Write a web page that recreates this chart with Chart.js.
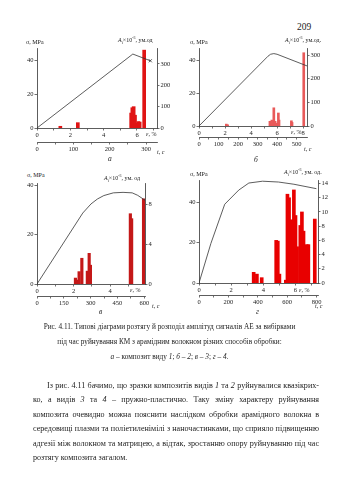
<!DOCTYPE html>
<html><head><meta charset="utf-8">
<script src="https://cdn.jsdelivr.net/npm/chart.js@4.4.1/dist/chart.umd.min.js"></script>
<style>
html,body{margin:0;padding:0;background:#fff;}
body{width:339px;height:480px;position:relative;overflow:hidden;font-family:"Liberation Serif",serif;color:#222;}
canvas{position:absolute;}
.l{position:absolute;font-size:6px;white-space:nowrap;line-height:1;color:#222;}
.l sub,.l sup{font-size:4px;line-height:0;}
.lt{position:absolute;font-size:7.5px;font-style:italic;line-height:1;}
#pg{position:absolute;left:297px;top:22px;font-size:9.5px;}
#cap{position:absolute;left:0;width:339px;top:319px;text-align:center;font-size:7.3px;line-height:15px;}
#par{position:absolute;left:33px;width:286px;top:379px;text-align:justify;font-size:8.1px;line-height:14.4px;text-indent:14px;}
</style>
</head><body>
<div id="pg">209</div>

<canvas id="ca" width="155" height="111" style="left:20px;top:43px"></canvas>
<canvas id="cb" width="149" height="108" style="left:180px;top:43px"></canvas>
<canvas id="cc" width="151" height="132" style="left:18px;top:178px"></canvas>
<canvas id="cd" width="158" height="134" style="left:180px;top:175px"></canvas>

<div class="l" style="left:26px;top:39px">σ, MPa</div>
<div class="l" style="left:118px;top:37px"><i>A</i><sub>i</sub>×10<sup>-3</sup>, ум.од</div>
<div class="l" style="left:146px;top:131px"><i>ε</i>, %</div>
<div class="l" style="left:157px;top:149px"><i>t</i>, <i>c</i></div>
<div class="lt" style="left:108px;top:155px">а</div>

<div class="l" style="left:190px;top:39px">σ, MPa</div>
<div class="l" style="left:285px;top:37px"><i>A</i><sub>i</sub>×10<sup>-3</sup>, ум.од.</div>
<div class="l" style="left:291px;top:129px"><i>ε</i>, %</div>
<div class="l" style="left:304px;top:146px"><i>t</i>, <i>c</i></div>
<div class="lt" style="left:254px;top:156px">б</div>

<div class="l" style="left:27px;top:172px">σ, MPa</div>
<div class="l" style="left:104px;top:175px"><i>A</i><sub>i</sub>×10<sup>-3</sup>, ум. од</div>
<div class="l" style="left:130px;top:287px"><i>ε</i>, %</div>
<div class="l" style="left:152px;top:303px"><i>t</i>, <i>c</i></div>
<div class="lt" style="left:99px;top:308px">в</div>

<div class="l" style="left:190px;top:171px">σ, MPa</div>
<div class="l" style="left:284px;top:169px"><i>A</i><sub>i</sub>×10<sup>-3</sup>, ум. од.</div>
<div class="l" style="left:299px;top:287px"><i>ε</i>, %</div>
<div class="l" style="left:315px;top:303px"><i>t</i>, <i>c</i></div>
<div class="lt" style="left:256px;top:308px">г</div>

<div id="cap">Рис. 4.11. Типові діаграми розтягу й розподіл амплітуд сигналів АЕ за вибірками<br>під час руйнування КМ з арамідним волокном різних способів обробки:<br><i>а</i> – композит виду <i>1</i>; <i>б</i> – <i>2</i>; <i>в</i> – <i>3</i>; <i>г</i> – <i>4</i>.</div>

<div id="par">Із рис. 4.11 бачимо, що зразки композитів видів <i>1</i> та <i>2</i> руйнувалися квазікрих­ко, а видів <i>3</i> та <i>4</i> – пружно-пластично. Таку зміну характеру руйнування композита очевидно можна пояснити наслідком обробки арамідного волокна в середовищі плазми та поліетиленімілі з наночастинками, що сприяло підвищенню адгезії між волокном та матрицею, а відтак, зростанню опору руйнуванню під час розтягу композита загалом.</div>

<script>
// ---- chart а (composite 1) ----
const aStrain = [0, 5.75, 6.8];
const aStress = [0, 44, 40];
const aBarStrain = [1.4, 2.45, 5.65, 5.72, 5.8, 5.88, 6.0, 6.08, 6.16, 6.43];
const aBarAmp    = [8, 25, 70, 95, 100, 60, 22, 30, 28, 365];
const aStrainTicks = [0,1,2,3,4,5,6,7], aStrainLabels = [0,2,4,6];
const aTimeTicks = [0,50,100,150,200,250,300], aTimeLabels = [0,100,200,300];
const aStressTicks = [0,20,40], aAmpTicks = [0,100,200,300];

// ---- chart б (composite 2) ----
const bStrain = [0, 5.3, 5.5, 5.75, 6.0, 8.3];
const bStress = [0, 42.4, 43.6, 44, 43.6, 36.5];
const bBarStrain = [2.1, 2.2, 5.45, 5.6, 5.75, 5.85, 6.0, 6.1, 6.15, 7.1, 7.15, 8.05];
const bBarAmp    = [8, 5, 20, 25, 77, 20, 12, 55, 25, 22, 15, 310];
const bStrainTicks = [0,1,2,3,4,5,6,7,8], bStrainLabels = [0,2,4,6,8];
const bTimeTicks = [0,50,100,150,200,250,300,350,400,450,500], bTimeLabels = [0,100,200,300,400,500];
const bStressTicks = [0,20,40], bAmpTicks = [0,100,200,300];

// ---- chart в (composite 3) ----
const cStrain = [0, 2.5, 2.95, 3.3, 3.65, 4.17, 4.7, 5.2, 5.5, 5.9];
const cStress = [0, 28.8, 32.5, 34.5, 35.9, 37, 37.2, 37, 36, 34];
const cBarStrain = [2.1, 2.18, 2.3, 2.45, 2.75, 2.85, 2.92, 5.1, 5.17, 5.82, 5.88];
const cBarAmp    = [0.6, 0.4, 1.25, 2.6, 1.3, 3.1, 1.9, 7.1, 6.6, 8.6, 8.4];
const cStrainTicks = [0,1,2,3,4,5], cStrainLabels = [0,2,4];
const cTimeTicks = [0,75,150,225,300,375,450,525,600], cTimeLabels = [0,150,300,450,600];
const cStressTicks = [0,20,40], cAmpTicks = [0,4,8];

// ---- chart г (composite 4) ----
const dStrain = [0, 0.74, 1.6, 2.47, 3.1, 3.95, 4.94, 5.9, 7.3];
const dStress = [0, 19.6, 39, 46, 49.5, 50.4, 50, 48.9, 46.7];
const dBarStrain = [3.4, 3.6, 3.9, 4.8, 4.9, 5.0, 5.4, 5.5, 5.6, 5.75, 5.9, 6.0, 6.1, 6.3, 6.4, 6.5, 6.7, 6.8, 7.2];
const dBarAmp    = [1.5, 1.25, 0.75, 6, 5.9, 1.25, 0.4, 12.5, 12, 8.9, 13.1, 9.5, 5.1, 8.1, 10, 7.3, 5.4, 5.4, 9];
const dStrainTicks = [0,1,2,3,4,5,6,7], dStrainLabels = [0,2,4,6];
const dTimeTicks = [0,100,200,300,400,500,600,700,800], dTimeLabels = [0,200,400,600,800];
const dStressTicks = [0,20,40], dAmpTicks = [0,2,4,6,8,10,12,14];

const FONT = {family:'Liberation Serif', size:6.5};
function axis(pos, min, max, ticks, labels, size, weight, tickLen) {
  const lab = labels || ticks;
  return {
    type:'linear', position:pos, min:min, max:max, weight:weight||0, offset:false,
    afterBuildTicks: s => { s.ticks = ticks.map(v => ({value:v})); },
    afterFit: s => { if (pos==='left' || pos==='right') s.width = size; else s.height = size; },
    grid:{display:true, drawOnChartArea:false, drawTicks:true, tickLength:tickLen||2.5, color:'#333', lineWidth:0.7, offset:false},
    border:{display:true, color:'#333', width:0.8},
    ticks:{font:FONT, color:'#222', padding:1, autoSkip:false, maxRotation:0,
           callback: v => lab.includes(v) ? String(v) : ''}
  };
}
function build(id, c) {
  const n = c.strain.length;
  new Chart(document.getElementById(id), {
    data:{datasets:[
      {type:'line', data:c.strain.map((x,i)=>({x:x, y:c.stress[i]})), borderColor:'#333', borderWidth:0.8,
       pointStyle:'crossRot', pointBorderColor:'#333', pointBorderWidth:0.8,
       pointRadius: ctx => (c.endMark && ctx.dataIndex === n-1) ? 2.2 : 0,
       tension:0, xAxisID:'x', yAxisID:'y', order:0},
      {type:'bar', data:c.bx.map((x,i)=>({x:x, y:c.by[i]})), backgroundColor:c.color, borderWidth:0,
       barThickness:c.bw, xAxisID:'x', yAxisID:'y1', order:1}
    ]},
    options:{
      responsive:false, animation:false,
      layout:{padding:{top:5, left:0, right:0, bottom:0}},
      plugins:{legend:{display:false}, tooltip:{enabled:false}},
      scales:{
        x: axis('bottom', 0, c.xmax, c.xt, c.xl, c.xh, 0),
        x2: axis('bottom', 0, c.tmax, c.tt, c.tl, c.th, 1),
        y: axis('left', 0, c.ymax, c.yt, null, c.lw, 0),
        y1: axis('right', 0, c.y1max, c.y1t, null, c.rw, 0)
      }
    }
  });
}
build('ca', {strain:aStrain, stress:aStress, bx:aBarStrain, by:aBarAmp, color:'#e01414', bw:3, endMark:true,
  xmax:7.2, xt:aStrainTicks, xl:aStrainLabels, xh:14, tmax:330, tt:aTimeTicks, tl:aTimeLabels, th:12,
  ymax:47.6, yt:aStressTicks, lw:17, y1max:375, y1t:aAmpTicks, rw:18});
build('cb', {strain:bStrain, stress:bStress, bx:bBarStrain, by:bBarAmp, color:'#e85a5a', bw:2,
  xmax:8.3, xt:bStrainTicks, xl:bStrainLabels, xh:11, tmax:553, tt:bTimeTicks, tl:bTimeLabels, th:14,
  ymax:47.4, yt:bStressTicks, lw:19, y1max:330, y1t:bAmpTicks, rw:22});
build('cc', {strain:cStrain, stress:cStress, bx:cBarStrain, by:cBarAmp, color:'#c41818', bw:2.5,
  xmax:5.9, xt:cStrainTicks, xl:cStrainLabels, xh:12, tmax:604, tt:cTimeTicks, tl:cTimeLabels, th:14,
  ymax:41, yt:cStressTicks, lw:19, y1max:10.2, y1t:cAmpTicks, rw:24});
build('cd', {strain:dStrain, stress:dStress, bx:dBarStrain, by:dBarAmp, color:'#e80000', bw:3,
  xmax:7.4, xt:dStrainTicks, xl:dStrainLabels, xh:12, tmax:810, tt:dTimeTicks, tl:dTimeLabels, th:14,
  ymax:51, yt:dStressTicks, lw:19, y1max:14.5, y1t:dAmpTicks, rw:20});
</script>
</body></html>
